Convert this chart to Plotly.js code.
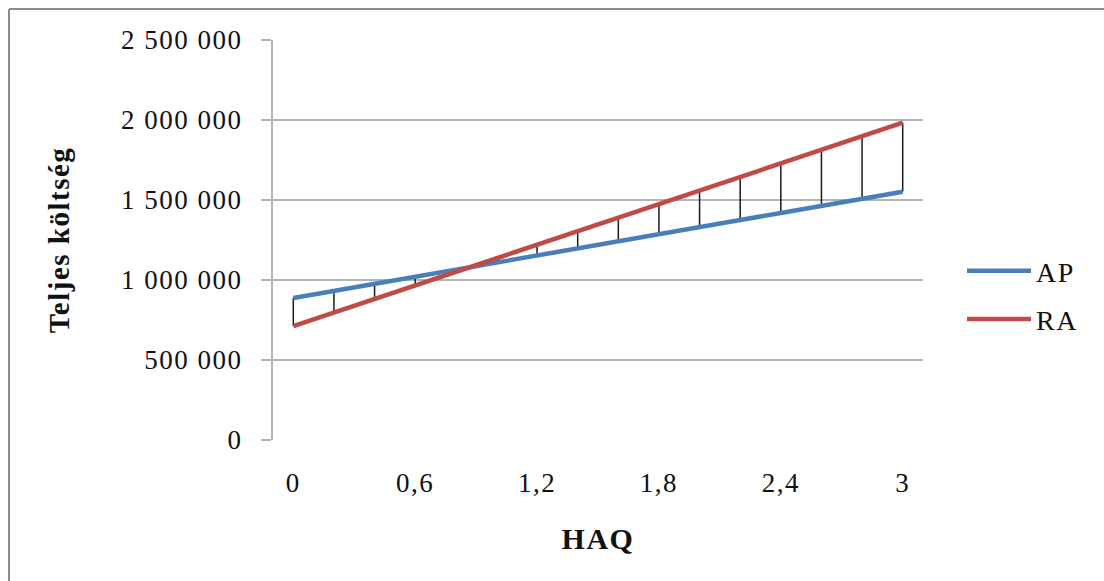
<!DOCTYPE html>
<html>
<head>
<meta charset="utf-8">
<script src="https://cdn.plot.ly/plotly-3.0.1.min.js"></script>
<style>
html,body{margin:0;padding:0;background:#fff;}
#chart{width:1104px;height:581px;}
#chart text{letter-spacing:1.5px;}
</style>
</head>
<body>
<div id="chart"></div>
<script>
// HAQ categories
var haq = [0, 0.2, 0.4, 0.6, 0.8, 1.0, 1.2, 1.4, 1.6, 1.8, 2.0, 2.2, 2.4, 2.6, 2.8, 3.0];
// Total cost, AP
var apCost = [887000, 932000, 976000, 1020000, 1065000, 1109000, 1153000, 1198000, 1242000, 1286000, 1330000, 1375000, 1419000, 1463000, 1508000, 1552000];
// Total cost, RA
var raCost = [712000, 797000, 882000, 967000, 1051000, 1136000, 1221000, 1305000, 1390000, 1475000, 1560000, 1644000, 1729000, 1814000, 1898000, 1983000];

var xTickVals = [0, 0.6, 1.2, 1.8, 2.4, 3];
var xTickText = ["0", "0,6", "1,2", "1,8", "2,4", "3"];
var yTickVals = [0, 500000, 1000000, 1500000, 2000000, 2500000];
var yTickText = ["0", "500 000", "1 000 000", "1 500 000", "2 000 000", "2 500 000"];

// high-low connector lines between the two series
var hlX = [], hlY = [];
for (var i = 0; i < haq.length; i++) {
  hlX.push(haq[i], haq[i], null);
  hlY.push(apCost[i], raCost[i], null);
}

var FONT = "Liberation Serif, Times New Roman, serif";

var traces = [
  {x: hlX, y: hlY, mode: 'lines', type: 'scatter', showlegend: false, hoverinfo: 'skip',
   line: {color: '#1a1a1a', width: 1.5}},
  {x: haq, y: apCost, name: 'AP', mode: 'lines', type: 'scatter', legendgroup: 'a',
   line: {color: '#4A7EBB', width: 4.5}},
  {x: haq, y: raCost, name: 'RA', mode: 'lines', type: 'scatter', legendgroup: 'b',
   line: {color: '#BE4B48', width: 4.5}}
];

function px2paperX(p){ return (p - 273) / 650; }
function px2paperY(p){ return (440 - p) / 400; }

var layout = {
  width: 1104, height: 581,
  margin: {l: 273, r: 181, t: 40, b: 141},
  paper_bgcolor: '#ffffff', plot_bgcolor: '#ffffff',
  font: {family: FONT, color: '#111', size: 27},
  xaxis: {
    range: [-0.1, 3.1], tickvals: xTickVals, ticktext: xTickText,
    showgrid: false, zeroline: false, showline: false,
    ticks: 'outside', ticklen: 19, tickcolor: 'rgba(0,0,0,0)',
    tickfont: {family: FONT, size: 27, color: '#111'},
    title: {text: 'HAQ', font: {family: FONT, size: 30, color: '#111', weight: 'bold'}, standoff: 30}
  },
  yaxis: {
    range: [0, 2500000], tickvals: yTickVals, ticktext: yTickText,
    showgrid: true, gridcolor: '#b4b4b4', gridwidth: 1.5,
    zeroline: false, showline: true, linecolor: '#b4b4b4', linewidth: 2,
    ticks: 'outside', ticklen: 10, tickcolor: '#b4b4b4', tickwidth: 1.5,
    ticklabelstandoff: 13,
    tickfont: {family: FONT, size: 27, color: '#111'},
    title: {text: 'Teljes költség', font: {family: FONT, size: 29, color: '#111', weight: 'bold'}, standoff: 56}
  },
  legend: {
    x: px2paperX(962), y: px2paperY(246), xanchor: 'left', yanchor: 'top',
    font: {family: FONT, size: 28, color: '#111'},
    tracegroupgap: 9, itemwidth: 64, bgcolor: 'rgba(0,0,0,0)'
  },
  shapes: [
    {type: 'line', xref: 'paper', yref: 'paper', x0: px2paperX(9), x1: px2paperX(9), y0: px2paperY(9), y1: px2paperY(600),
     line: {color: '#8c8c8c', width: 2}},
    {type: 'line', xref: 'paper', yref: 'paper', x0: px2paperX(9), x1: px2paperX(1110), y0: px2paperY(9), y1: px2paperY(9),
     line: {color: '#8c8c8c', width: 2}}
  ],
  showlegend: true
};

Plotly.newPlot('chart', traces, layout, {displayModeBar: false, staticPlot: true});
</script>
</body>
</html>
